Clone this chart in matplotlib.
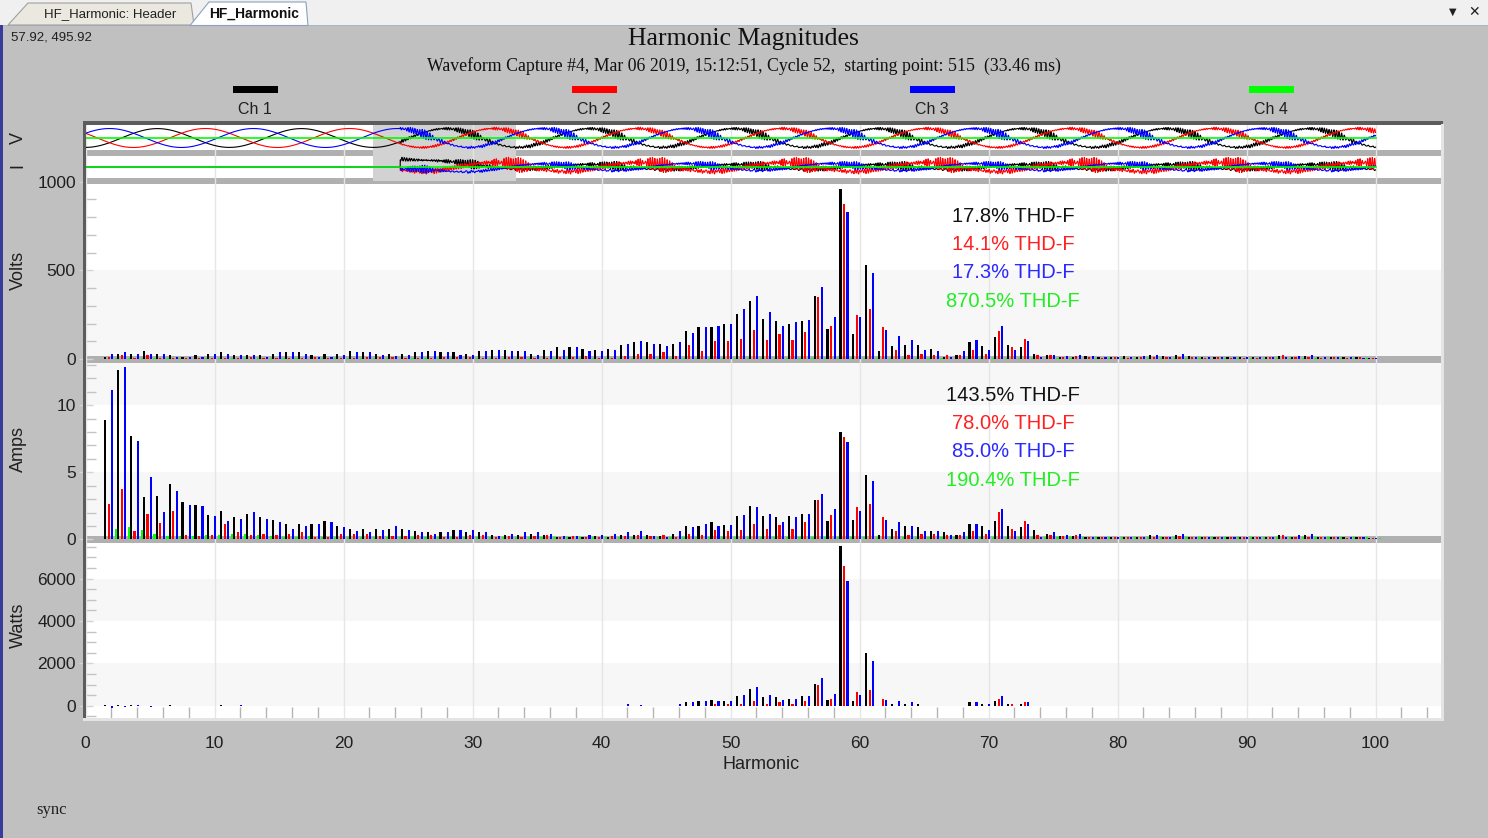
import numpy as np
import matplotlib
matplotlib.use('Agg')
import matplotlib.pyplot as plt
from matplotlib.patches import Rectangle, Polygon
from matplotlib.ticker import MultipleLocator

plt.rcParams['font.family'] = ['Liberation Sans', 'DejaVu Sans']

W, H = 1488, 838

# ---- dados (harmônicas 2..100) ----
harmonicos = list(range(2, 101))

volts_ch1 = [13, 30, 30, 43, 30, 23, 13, 23, 30,
             38, 23, 23, 23, 30, 38, 38, 23, 30, 30,
             43, 38, 30, 30, 30, 38, 43, 38, 38, 30,
             43, 51, 51, 43, 30, 51, 66, 66, 56, 51,
             56, 79, 94, 94, 86, 86, 156, 179, 179, 199,
             256, 325, 227, 212, 199, 212, 353, 171, 959, 143,
             528, 43, 73, 79, 79, 56, 13, 23, 94, 73,
             122, 79, 66, 30, 23, 13, 13, 15, 13, 12,
             15, 12, 20, 15, 25, 15, 12, 12, 10, 12,
             10, 12, 15, 12, 15, 10, 12, 10, 12, 8]
volts_ch2 = [12, 25, 8, 23, 4, 8, 8, 4, 4,
             4, 4, 13, 4, 4, 4, 4, 13, 6, 5,
             4, 13, 10, 13, 4, 4, 4, 13, 10, 13,
             4, 4, 13, 13, 8, 8, 13, 10, 19, 8,
             5, 15, 30, 30, 38, 15, 79, 43, 100, 100,
             113, 164, 107, 143, 107, 150, 348, 186, 876, 248,
             284, 179, 51, 23, 30, 23, 23, 23, 51, 30,
             156, 66, 113, 23, 23, 13, 17, 10, 8, 10,
             8, 10, 12, 10, 12, 10, 8, 10, 8, 8,
             8, 10, 20, 10, 12, 8, 10, 8, 10, 6]
volts_ch3 = [30, 38, 30, 30, 30, 13, 10, 13, 30,
             30, 23, 23, 13, 38, 38, 30, 13, 13, 23,
             38, 38, 23, 15, 23, 38, 43, 38, 23, 23,
             43, 51, 43, 43, 23, 43, 51, 66, 43, 43,
             51, 86, 100, 86, 73, 94, 148, 179, 186, 199,
             284, 355, 263, 184, 207, 220, 404, 235, 827, 235,
             487, 164, 128, 107, 51, 43, 9, 43, 107, 51,
             184, 51, 100, 9, 23, 19, 23, 15, 12, 14,
             12, 15, 25, 12, 30, 12, 10, 12, 12, 10,
             12, 10, 12, 15, 25, 12, 10, 12, 8, 8]
volts_ch4 = [4, 3, 3, 4, 3, 3, 2, 3, 3,
             3, 3, 4, 3, 3, 3, 2, 3, 3, 3,
             3, 3, 3, 2, 3, 3, 3, 3, 2, 3,
             3, 3, 3, 3, 2, 3, 3, 3, 3, 3,
             3, 3, 3, 4, 3, 3, 3, 3, 4, 3,
             3, 4, 3, 3, 3, 3, 4, 3, 5, 3,
             4, 3, 3, 3, 3, 3, 2, 3, 3, 3,
             3, 3, 3, 2, 3, 3, 2, 3, 3, 3,
             3, 3, 3, 3, 3, 3, 2, 3, 3, 3,
             3, 3, 3, 3, 3, 2, 3, 3, 3, 2]

amps_ch1 = [8.88, 12.64, 7.69, 3.13, 3.21, 4.15, 2.76, 2.54, 1.79,
            2.09, 1.64, 1.92, 1.64, 1.44, 1.17, 1.17, 1.17, 1.34, 0.97,
            0.8, 0.8, 0.8, 0.8, 0.8, 0.6, 0.52, 0.52, 0.7, 0.52,
            0.52, 0.3, 0.3, 0.3, 0.42, 0.3, 0.15, 0.15, 0.15, 0.25,
            0.2, 0.32, 0.32, 0.32, 0.25, 0.42, 0.97, 0.97, 1.27, 1.07,
            1.72, 2.46, 1.72, 1.64, 1.72, 1.92, 2.94, 1.34, 7.99, 1.44,
            4.8, 0.32, 0.8, 0.97, 0.9, 0.6, 0.52, 0.32, 1.17, 0.97,
            1.34, 0.97, 0.9, 0.7, 0.42, 0.25, 0.25, 0.2, 0.2, 0.15,
            0.2, 0.2, 0.3, 0.2, 0.35, 0.2, 0.15, 0.2, 0.15, 0.2,
            0.15, 0.2, 0.3, 0.2, 0.35, 0.15, 0.2, 0.15, 0.2, 0.1]
amps_ch2 = [2.64, 3.76, 0.6, 1.92, 1.24, 2.09, 0.3, 0.25, 0.3,
            1.17, 0.52, 0.3, 0.42, 0.3, 0.42, 0.52, 0.15, 0.15, 0.4,
            0.42, 0.42, 0.25, 0.25, 0.25, 0.3, 0.3, 0.2, 0.2, 0.3,
            0.3, 0.15, 0.25, 0.15, 0.25, 0.3, 0.15, 0.25, 0.2, 0.2,
            0.25, 0.25, 0.32, 0.25, 0.32, 0.2, 0.42, 0.32, 0.7, 0.6,
            0.7, 1.17, 0.8, 1.07, 0.8, 1.27, 2.94, 1.82, 7.61, 2.39,
            2.66, 1.64, 0.6, 0.32, 0.42, 0.42, 0.32, 0.32, 0.6, 0.42,
            2.01, 0.8, 1.34, 0.32, 0.32, 0.25, 0.32, 0.15, 0.2, 0.15,
            0.15, 0.2, 0.2, 0.15, 0.25, 0.15, 0.15, 0.2, 0.15, 0.15,
            0.15, 0.2, 0.35, 0.15, 0.2, 0.15, 0.15, 0.1, 0.15, 0.1]
amps_ch3 = [11.14, 12.84, 7.34, 4.63, 2.01, 3.58, 2.54, 2.49, 1.74,
            1.34, 1.54, 2.01, 1.52, 1.27, 0.8, 0.97, 1.17, 1.27, 0.9,
            0.6, 0.52, 0.7, 1.0, 0.7, 0.52, 0.4, 0.52, 0.7, 0.7,
            0.52, 0.25, 0.4, 0.52, 0.52, 0.42, 0.25, 0.25, 0.32, 0.32,
            0.42, 0.52, 0.6, 0.27, 0.2, 0.6, 0.9, 1.17, 0.97, 1.07,
            1.82, 2.39, 1.92, 1.27, 1.64, 1.92, 3.41, 2.29, 7.24, 2.09,
            4.33, 1.44, 1.27, 0.97, 0.6, 0.6, 0.32, 0.52, 1.17, 0.7,
            2.29, 0.6, 1.17, 0.2, 0.52, 0.32, 0.42, 0.2, 0.15, 0.2,
            0.2, 0.15, 0.3, 0.2, 0.4, 0.2, 0.2, 0.15, 0.2, 0.15,
            0.2, 0.15, 0.2, 0.3, 0.4, 0.2, 0.15, 0.2, 0.15, 0.1]
amps_ch4 = [0.77, 0.9, 0.7, 0.4, 0.25, 0.25, 0.25, 0.3, 0.3,
            0.4, 0.4, 0.3, 0.25, 0.2, 0.2, 0.25, 0.2, 0.2, 0.2,
            0.2, 0.2, 0.15, 0.2, 0.2, 0.15, 0.2, 0.2, 0.15, 0.2,
            0.2, 0.15, 0.2, 0.15, 0.2, 0.2, 0.15, 0.2, 0.15, 0.2,
            0.15, 0.2, 0.2, 0.15, 0.2, 0.15, 0.2, 0.2, 0.15, 0.2,
            0.2, 0.15, 0.2, 0.2, 0.15, 0.2, 0.2, 0.15, 0.2, 0.2,
            0.15, 0.2, 0.2, 0.15, 0.2, 0.15, 0.2, 0.2, 0.15, 0.2,
            0.2, 0.15, 0.2, 0.15, 0.2, 0.2, 0.15, 0.2, 0.15, 0.2,
            0.15, 0.2, 0.2, 0.15, 0.2, 0.15, 0.2, 0.2, 0.15, 0.2,
            0.2, 0.15, 0.2, 0.2, 0.15, 0.2, 0.15, 0.2, 0.15, 0.1]

watts_ch1 = [50, 40, 30, -30, -20, 20, 0, 0, 0,
             30, 0, 0, 0, 0, 0, 0, 0, 0, 0,
             0, 0, 0, 0, 0, 0, 0, 0, 0, 0,
             0, 0, 0, 0, 0, 0, 0, 0, 0, 0,
             0, 0, 0, 0, 0, 0, 157, 200, 267, 200,
             440, 800, 390, 390, 330, 440, 1036, 267, 7520, 200,
             2500, 0, 90, 80, 90, 0, 0, 0, 157, 90,
             200, 90, 90, 0, 0, 0, 0, 0, 0, 0,
             0, 0, 0, 0, 0, 0, 0, 0, 0, 0,
             0, 0, 0, 0, 0, 0, 0, 0, 0, 0]
watts_ch2 = [0, 0, 0, 0, 0, 0, 0, 0, 0,
             0, 0, 0, 0, 0, 0, 0, 0, 0, 0,
             0, 0, 0, 0, 0, 0, 0, 0, 0, 0,
             0, 0, 0, 0, 0, 0, 0, 0, 0, 0,
             0, 0, 0, 0, 0, 0, 0, 0, 90, 90,
             90, 200, 90, 157, 90, 200, 970, 330, 6580, 630,
             740, 330, 0, 0, 0, 0, 0, 0, 0, 0,
             330, 90, 157, 0, 0, 0, 0, 0, 0, 0,
             0, 0, 0, 0, 0, 0, 0, 0, 0, 0,
             0, 0, 0, 0, 0, 0, 0, 0, 0, 0]
watts_ch3 = [-100, -60, 30, -40, -30, -20, 0, 0, 0,
             0, 20, 0, 0, 0, 0, 0, 0, 0, 0,
             0, 0, 0, 0, 0, 0, 0, 0, 0, 0,
             0, 0, 0, 0, 0, 0, 0, 0, 0, 0,
             0, 60, 40, 0, 0, 90, 157, 200, 200, 200,
             500, 860, 500, 267, 330, 440, 1330, 565, 5870, 500,
             2090, 267, 200, 157, 0, 0, 0, 0, 157, 90,
             440, 0, 157, 0, 0, 0, 0, 0, 0, 0,
             0, 0, 0, 0, 0, 0, 0, 0, 0, 0,
             0, 0, 0, 0, 0, 0, 0, 0, 0, 0]

thd_volts = [17.8, 14.1, 17.3, 870.5]
thd_amps = [143.5, 78.0, 85.0, 190.4]
canais = ['Ch 1', 'Ch 2', 'Ch 3', 'Ch 4']
cores = ['#000000', '#ff0000', '#0000ff', '#00ff00']
cores_txt = ['#111111', '#ff2020', '#2a2aff', '#22ee22']

x_ticks = [0, 10, 20, 30, 40, 50, 60, 70, 80, 90, 100]
volts_ticks = [0, 500, 1000]
amps_ticks = [0, 5, 10]
watts_ticks = [0, 2000, 4000, 6000]

titulo = 'Harmonic Magnitudes'
subtitulo = 'Waveform Capture #4, Mar 06 2019, 15:12:51, Cycle 52,  starting point: 515  (33.46 ms)'

# ---- layout (pixels) ----
X0, X1 = 85.5, 1441
PX_H = 12.9                     # pixels por harmônica
XMAX = (X1 - X0) / PX_H
deslocs = [-0.48, -0.2, 0.07, 0.35]
largura = 0.17

fig = plt.figure(figsize=(W / 100, H / 100), dpi=100, facecolor='#c0c0c0')


def eixo(x0, y0, x1, y1):
    return fig.add_axes([x0 / W, 1 - y1 / H, (x1 - x0) / W, (y1 - y0) / H])


def ret(x0, y0, x1, y1, cor, z=5, **kw):
    fig.add_artist(Rectangle((x0 / W, 1 - y1 / H), (x1 - x0) / W, (y1 - y0) / H,
                             transform=fig.transFigure, facecolor=cor,
                             edgecolor='none', zorder=z, **kw))


def txt(x, y, s, **kw):
    kw.setdefault('zorder', 8)
    fig.text(x / W, 1 - y / H, s, **kw)


ax_v = eixo(X0, 180, X1, 363)
ax_a = eixo(X0, 363, X1, 543)
ax_w = eixo(X0, 543, X1, 718)
ax_s = eixo(X0, 124, X1, 184)
ax_s.set_zorder(2)

ax_v.set_ylim(-(363 - 359) / 0.1773, (359 - 180) / 0.1773)
ax_a.set_ylim(-(543 - 539.3) / 13.4, (539.3 - 363) / 13.4)
ax_w.set_ylim(-(718 - 705.7) / 0.0212, (705.7 - 543) / 0.0212)

paineis = [
    (ax_v, [volts_ch1, volts_ch2, volts_ch3, volts_ch4], volts_ticks, 100, [(0, 500)], 'Volts', 270),
    (ax_a, [amps_ch1, amps_ch2, amps_ch3, amps_ch4], amps_ticks, 1, [(0, 5), (10, 15)], 'Amps', 449),
    (ax_w, [watts_ch1, watts_ch2, watts_ch3], watts_ticks, 500, [(0, 2000), (4000, 6000)], 'Watts', 625),
]

h = np.array(harmonicos)
for ax, series, ticks, menor, faixas, rotulo, yl in paineis:
    ax.set_xlim(0, XMAX)
    ax.set_facecolor('white')
    for s in ax.spines.values():
        s.set_visible(False)
    for a, b in faixas:
        ax.axhspan(a, b, color='#f7f7f7', lw=0, zorder=0.5)
    for xv in x_ticks:
        ax.axvline(xv, color='#e6e6e6', lw=1, zorder=2)
    for k, vals in enumerate(series):
        ax.bar(h + deslocs[k], vals, width=largura, color=cores[k], lw=0, zorder=3)
    ax.set_yticks(ticks)
    ax.yaxis.set_minor_locator(MultipleLocator(menor))
    ax.tick_params(axis='y', which='major', direction='inout', length=10, width=1,
                   color='#d4d4d4', labelsize=12.5, labelcolor='#202020', pad=2)
    ax.tick_params(axis='y', which='minor', direction='in', length=7, width=1,
                   color='#c4c4c4')
    txt(18, yl, rotulo, rotation=90, ha='center', va='center', fontsize=13, color='#202020')

# faixas cinza separando os painéis
ax_v.axhspan(-30, (359 - 356) / 0.1773, color='#b0b0b0', lw=0, zorder=1)
ax_a.axhspan(-1, (539.3 - 536) / 13.4, color='#b0b0b0', lw=0, zorder=1)

for ax in (ax_v, ax_a):
    ax.tick_params(axis='x', which='both', bottom=False, labelbottom=False)

ax_w.set_xticks(x_ticks)
ax_w.xaxis.set_minor_locator(MultipleLocator(2))
ax_w.tick_params(axis='x', which='major', length=0, labelsize=12.5,
                 labelcolor='#202020', pad=13)
ax_w.tick_params(axis='x', which='minor', direction='in', length=8, width=1,
                 color='#b4b4b4')

# textos THD-F
for k in range(4):
    txt(1013, 216 + k * 28.4, f'{thd_volts[k]:.1f}% THD-F', ha='center', va='center',
        fontsize=14.5, color=cores_txt[k])
    txt(1013, 395 + k * 28.4, f'{thd_amps[k]:.1f}% THD-F', ha='center', va='center',
        fontsize=14.5, color=cores_txt[k])

# ---- faixa das formas de onda (reconstruída a partir das harmônicas) ----
ciclo = 11.16          # um ciclo em unidades do eixo x
evento = 24.4
janela = (22.3, 33.4)
fases = [-np.pi / 2, -np.pi / 2 - 2 * np.pi / 3, -np.pi / 2 + 2 * np.pi / 3]
amp_i = [2.5, 4.5, 3.5]
trans_i = [9.0, 0.0, -6.0]

ax_s.set_xlim(0, XMAX)
ax_s.set_ylim(60, 0)
ax_s.set_facecolor('white')
for s in ax_s.spines.values():
    s.set_visible(False)
ax_s.set_xticks([])
ax_s.set_yticks([])
ax_s.axhspan(26, 32, color='#b0b0b0', lw=0, zorder=1)
ax_s.axhspan(54, 60, color='#b0b0b0', lw=0, zorder=1)
ax_s.add_patch(Rectangle((janela[0], 0), janela[1] - janela[0], 57.5,
                         facecolor='#d2d2d2', edgecolor='none', zorder=1.2))
for xv in x_ticks:
    ax_s.axvline(xv, color='#e4e4e4', lw=1, zorder=1.4)

t = np.linspace(0, 100, 9000)
theta = 2 * np.pi * t / ciclo
depois = (t >= evento).astype(float)
fase_schroeder = np.pi * h * (h - 1) / len(h)   # fases espalhadas (baixo fator de crista)


def harmonicas(valores, fase, minimo=2):
    vals = np.array(valores, float)
    sel = h >= minimo
    arg = np.outer(h[sel], theta + fase) + fase_schroeder[sel, None]
    return (vals[sel, None] * np.sin(arg)).sum(axis=0)


volts_series = [volts_ch1, volts_ch2, volts_ch3]
v1 = [np.sqrt(np.sum(np.square(v))) / (thd_volts[k] / 100) for k, v in enumerate(volts_series)]
v1_ref = max(v1)
for k, vals in enumerate(volts_series):
    onda = np.sin(theta + fases[k]) + depois * harmonicas(vals, fases[k]) / v1[k]
    ax_s.plot(t, 14 - 9.5 * (v1[k] / v1_ref) * onda, color=cores[k], lw=0.8, zorder=3)
ax_s.axhline(14, xmax=100 / XMAX, color=cores[3], lw=1.2, zorder=3.5)

amps_series = [amps_ch1, amps_ch2, amps_ch3]
for k, vals in enumerate(amps_series):
    i1 = np.sqrt(np.sum(np.square(vals))) / (thd_amps[k] / 100)
    onda = np.sin(theta + fases[k]) + harmonicas(vals, fases[k], minimo=20) / i1
    decai = np.exp(-np.clip(t - evento, 0, None) / 3.5)
    y = 43 - depois * (amp_i[k] * onda + trans_i[k] * decai)
    ax_s.plot(t, y, color=cores[k], lw=0.8, zorder=3)
ax_s.axhline(43, xmax=100 / XMAX, color=cores[3], lw=1.2, zorder=3.5)

txt(18, 138, 'V', rotation=90, ha='center', va='center', fontsize=13, color='#202020')
txt(18, 165, 'I', rotation=90, ha='center', va='center', fontsize=13, color='#202020')

# ---- moldura ----
ret(82.5, 121, 86, 718, '#5c5c5c')
ret(82.5, 121, 1443, 125, '#5c5c5c')
ret(1441, 124, 1444, 721, '#e4e4e4')
ret(82.5, 718, 1444, 721, '#e4e4e4')

# ---- títulos e legenda ----
txt(743, 39, titulo, ha='center', va='center', fontsize=18.5,
    family='Liberation Serif', color='#111111')
txt(744, 66, subtitulo, ha='center', va='center', fontsize=12.8,
    family='Liberation Serif', color='#111111')
leg_x = [255, 594, 932, 1271]
for k in range(4):
    ret(leg_x[k] - 22.5, 86.5, leg_x[k] + 22.5, 93.5, cores[k], z=6)
    txt(leg_x[k], 110, canais[k], ha='center', va='center', fontsize=11.5, color='#202020')

txt(761, 764, 'Harmonic', ha='center', va='center', fontsize=13, color='#202020')
txt(11, 37, '57.92, 495.92', ha='left', va='center', fontsize=9.5, color='#202020')
txt(36, 810, 'sync', ha='left', va='center', fontsize=12, family='Liberation Serif',
    color='#202020')

# ---- barra de abas ----
ret(0, 0, W, 25, '#f0f0f0', z=4)
ret(0, 25, W, 26.5, '#a9b6c6', z=4)
ret(0, 25, 2.5, H, '#3a3a9a', z=6)
fig.add_artist(Polygon([(8 / W, 1 - 25 / H), (28 / W, 1 - 3 / H), (191 / W, 1 - 3 / H),
                        (194 / W, 1 - 25 / H)], closed=True, transform=fig.transFigure,
                       facecolor='#ebe8df', edgecolor='#a0a0a0', lw=0.8, zorder=4.5))
fig.add_artist(Polygon([(190 / W, 1 - 25.5 / H), (209 / W, 1 - 2 / H), (306 / W, 1 - 2 / H),
                        (308 / W, 1 - 25.5 / H)], closed=True, transform=fig.transFigure,
                       facecolor='#ffffff', edgecolor='#8aa2c0', lw=0.8, zorder=4.6))
txt(110, 14, 'HF_Harmonic: Header', ha='center', va='center', fontsize=9.5, color='#202020')
txt(254, 14, 'HF_Harmonic', ha='center', va='center', fontsize=10, weight='bold',
    color='#101010')
txt(1453, 12, '▼', ha='center', va='center', fontsize=7, family='DejaVu Sans', color='#202020')
txt(1474, 12, '✕', ha='center', va='center', fontsize=10, family='DejaVu Sans',
    weight='bold', color='#202020')

fig.savefig('out.png', dpi=100, facecolor=fig.get_facecolor())
